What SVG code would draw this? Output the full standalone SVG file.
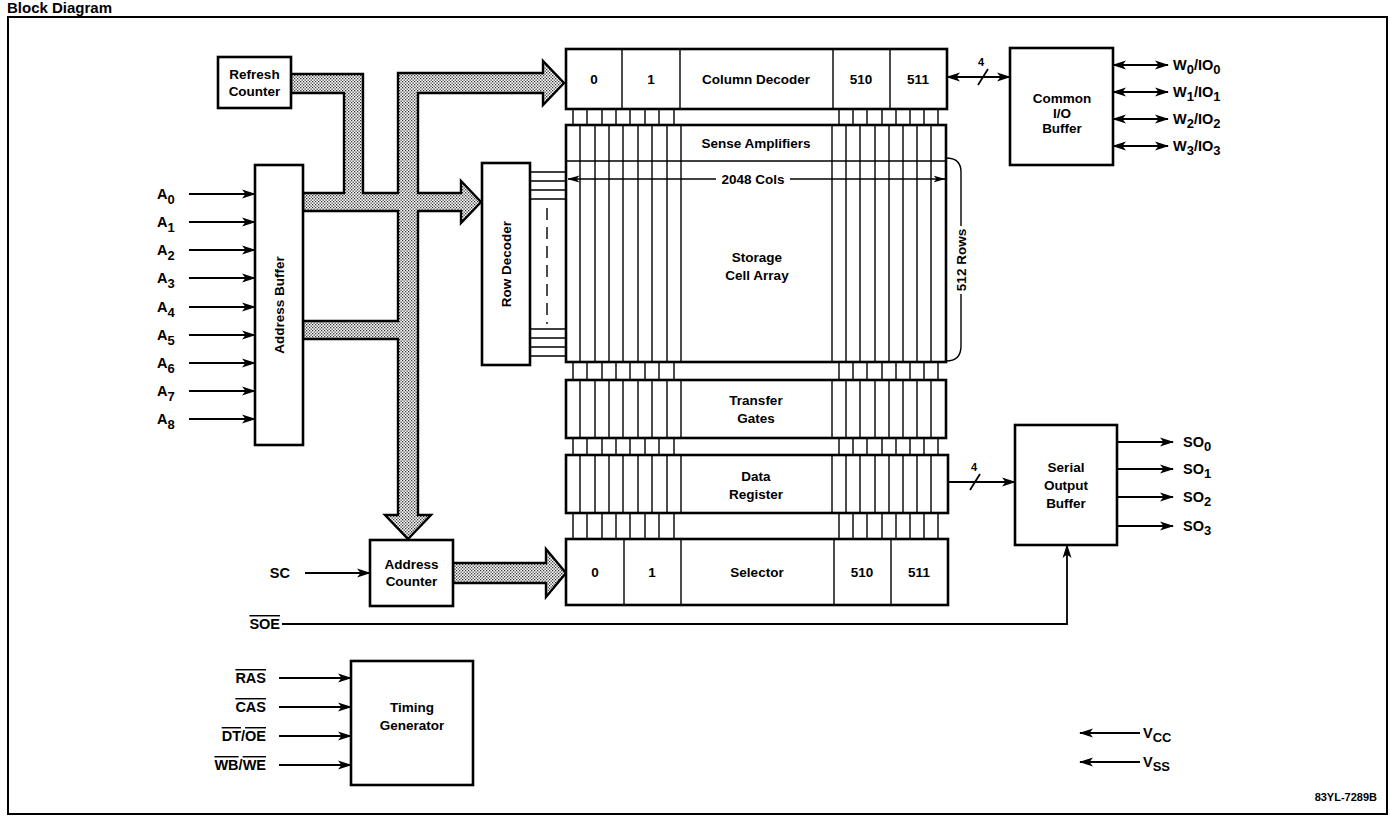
<svg xmlns="http://www.w3.org/2000/svg" width="1390" height="820" viewBox="0 0 1390 820">
<defs>
<style>
text{font-family:"Liberation Sans",Arial,Helvetica,sans-serif;fill:#000}
.lbl{font-weight:bold;font-size:13.5px;text-anchor:middle}
.pin{font-size:14.5px;font-weight:bold}
.sub{font-size:13px}
.box{fill:#fff;stroke:#000;stroke-width:2.6}
.cell{stroke:#000;stroke-width:1.4;fill:none}
.wire{stroke:#000;stroke-width:1.8;fill:none}
.bus{fill:url(#dots);stroke:#000;stroke-width:2.4;stroke-linejoin:miter}
.arr{marker-end:url(#ah)}
.dbl{marker-start:url(#ah);marker-end:url(#ah)}
.ol{text-decoration:overline}
</style>
<pattern id="dots" width="3" height="3" patternUnits="userSpaceOnUse"><rect width="3" height="3" fill="#fff"/><rect width="1.3" height="1.3" fill="#333"/><rect x="1.5" y="1.5" width="1.3" height="1.3" fill="#333"/></pattern>
<marker id="ah" viewBox="0 0 14 10" markerWidth="14" markerHeight="10" refX="13" refY="5" orient="auto-start-reverse" markerUnits="userSpaceOnUse"><path d="M0,0.5 L14,5 L0,9.5 L3.5,5 Z"/></marker>
<marker id="ah2" viewBox="0 0 12 8" markerWidth="12" markerHeight="8" refX="11.5" refY="4" orient="auto-start-reverse" markerUnits="userSpaceOnUse"><path d="M0,0.5 L12,4 L0,7.5 L3,4 Z"/></marker>
</defs>
<rect width="1390" height="820" fill="#fff"/>
<text x="7" y="13" font-weight="bold" font-size="15">Block Diagram</text>
<rect x="8" y="17" width="1379" height="797" fill="none" stroke="#000" stroke-width="2"/>

<g id="connectors">
  <!-- address bus network -->
  <path class="bus" d="M291,74 H363 V193 H398 V73 H543 V61 L564,83 L543,105 V93 H418 V193 H461 V181 L481,202 L461,223 V211 H418 V515 H431 L408,539 L385,515 H398 V339 H303 V321 H398 V211 H303 V193 H344 V93 H291 Z"/>
  <path class="bus" d="M453,563 H546 V549 L566,573 L546,597 V583 H453 Z"/>
  <!-- address inputs -->
  <path class="wire arr" d="M189,194 H255"/>
  <path class="wire arr" d="M189,222 H255"/>
  <path class="wire arr" d="M189,250 H255"/>
  <path class="wire arr" d="M189,278 H255"/>
  <path class="wire arr" d="M189,307 H255"/>
  <path class="wire arr" d="M189,335 H255"/>
  <path class="wire arr" d="M189,363 H255"/>
  <path class="wire arr" d="M189,391 H255"/>
  <path class="wire arr" d="M189,419 H255"/>
  <!-- SC -->
  <path class="wire arr" d="M305,573 H370"/>
  <!-- SOE -->
  <path class="wire arr" d="M282,624 H1067 V545"/>
  <!-- timing inputs -->
  <path class="wire arr" d="M279,678 H351"/>
  <path class="wire arr" d="M279,707 H351"/>
  <path class="wire arr" d="M279,736 H351"/>
  <path class="wire arr" d="M279,765 H351"/>
  <!-- column decoder to common IO -->
  <path class="wire dbl" d="M947,77 H1010"/>
  <path class="wire" d="M978,85 L988,69"/>
  <text x="981" y="66" font-weight="bold" font-size="11" text-anchor="middle">4</text>
  <!-- data register to serial output -->
  <path class="wire arr" d="M948,482 H1015"/>
  <path class="wire" d="M970,490 L980,474"/>
  <text x="974" y="471" font-weight="bold" font-size="11" text-anchor="middle">4</text>
  <!-- W/IO -->
  <path class="wire dbl" d="M1113,65 H1168"/>
  <path class="wire dbl" d="M1113,92 H1168"/>
  <path class="wire dbl" d="M1113,119 H1168"/>
  <path class="wire dbl" d="M1113,146 H1168"/>
  <!-- SO -->
  <path class="wire arr" d="M1117,442 H1173"/>
  <path class="wire arr" d="M1117,469 H1173"/>
  <path class="wire arr" d="M1117,497 H1173"/>
  <path class="wire arr" d="M1117,526 H1173"/>
  <!-- Vcc Vss -->
  <path class="wire arr" d="M1140,733 H1080"/>
  <path class="wire arr" d="M1140,762 H1080"/>
  <!-- row lines -->
  <path class="cell" d="M530,172 H566 M530,181 H566 M530,190 H566 M530,199 H566 M530,329 H566 M530,338 H566 M530,347 H566 M530,356 H566"/>
  <path class="cell" d="M547,208 V324" stroke-dasharray="12 7"/>
  <!-- bit line ticks -->
  <path class="cell" d="M573 109V125M587 109V125M602 109V125M616 109V125M630 109V125M645 109V125M659 109V125M674 109V125M839 109V125M853 109V125M867 109V125M882 109V125M896 109V125M910 109V125M924 109V125M938 109V125"/>
  <path class="cell" d="M573 362V380M587 362V380M602 362V380M616 362V380M630 362V380M645 362V380M659 362V380M674 362V380M839 362V380M853 362V380M867 362V380M882 362V380M896 362V380M910 362V380M924 362V380M938 362V380"/>
  <path class="cell" d="M573 438V455M587 438V455M602 438V455M616 438V455M630 438V455M645 438V455M659 438V455M674 438V455M839 438V455M853 438V455M867 438V455M882 438V455M896 438V455M910 438V455M924 438V455M938 438V455"/>
  <path class="cell" d="M573 513V539M587 513V539M602 513V539M616 513V539M630 513V539M645 513V539M659 513V539M674 513V539M839 513V539M853 513V539M867 513V539M882 513V539M896 513V539M910 513V539M924 513V539M938 513V539"/>
</g>

<g id="refresh-counter">
  <rect class="box" x="218" y="57" width="73" height="51"/>
  <text class="lbl" x="254.5" y="79">Refresh</text>
  <text class="lbl" x="254.5" y="96">Counter</text>
</g>

<g id="address-buffer">
  <rect class="box" x="255" y="165" width="48" height="280"/>
  <text class="lbl" transform="translate(284,305) rotate(-90)">Address Buffer</text>
</g>

<g id="address-pins">
  <text class="pin" x="157" y="199">A<tspan class="sub" dy="5">0</tspan></text>
  <text class="pin" x="157" y="227">A<tspan class="sub" dy="5">1</tspan></text>
  <text class="pin" x="157" y="255">A<tspan class="sub" dy="5">2</tspan></text>
  <text class="pin" x="157" y="283">A<tspan class="sub" dy="5">3</tspan></text>
  <text class="pin" x="157" y="312">A<tspan class="sub" dy="5">4</tspan></text>
  <text class="pin" x="157" y="340">A<tspan class="sub" dy="5">5</tspan></text>
  <text class="pin" x="157" y="368">A<tspan class="sub" dy="5">6</tspan></text>
  <text class="pin" x="157" y="396">A<tspan class="sub" dy="5">7</tspan></text>
  <text class="pin" x="157" y="424">A<tspan class="sub" dy="5">8</tspan></text>
</g>

<g id="row-decoder">
  <rect class="box" x="482" y="163" width="48" height="202"/>
  <text class="lbl" transform="translate(511,264) rotate(-90)">Row Decoder</text>
</g>

<g id="column-decoder">
  <rect class="box" x="566" y="49" width="381" height="60"/>
  <path class="cell" d="M622 49V109M680 49V109M833 49V109M890 49V109"/>
  <text class="lbl" x="594" y="84">0</text>
  <text class="lbl" x="651" y="84">1</text>
  <text class="lbl" x="756" y="84">Column Decoder</text>
  <text class="lbl" x="861" y="84">510</text>
  <text class="lbl" x="918" y="84">511</text>
</g>

<g id="storage-array">
  <rect class="box" x="566" y="125" width="380" height="237"/>
  <path class="cell" d="M566 161H946"/>
  <path class="cell" d="M580 125V362M595 125V362M609 125V362M623 125V362M638 125V362M652 125V362M667 125V362M681 125V362M832 125V362M846 125V362M860 125V362M875 125V362M889 125V362M903 125V362M917 125V362M931 125V362"/>
  <text class="lbl" x="756" y="148">Sense Amplifiers</text>
  <path class="cell" d="M716,179 H568" marker-end="url(#ah2)"/>
  <path class="cell" d="M790,179 H945" marker-end="url(#ah2)"/>
  <text class="lbl" x="753" y="184">2048 Cols</text>
  <text class="lbl" x="757" y="262">Storage</text>
  <text class="lbl" x="757" y="280">Cell Array</text>
  <path class="cell" d="M946,158 Q961,158 961,172 V226 M961,294 V346 Q961,361 946,361"/>
  <text class="lbl" transform="translate(966,260) rotate(-90)">512 Rows</text>
</g>

<g id="transfer-gates">
  <rect class="box" x="566" y="380" width="380" height="58"/>
  <path class="cell" d="M580 380V438M595 380V438M609 380V438M623 380V438M638 380V438M652 380V438M667 380V438M681 380V438M832 380V438M846 380V438M860 380V438M875 380V438M889 380V438M903 380V438M917 380V438M931 380V438"/>
  <text class="lbl" x="756" y="405">Transfer</text>
  <text class="lbl" x="756" y="423">Gates</text>
</g>

<g id="data-register">
  <rect class="box" x="566" y="455" width="382" height="58"/>
  <path class="cell" d="M580 455V513M595 455V513M609 455V513M623 455V513M638 455V513M652 455V513M667 455V513M681 455V513M832 455V513M846 455V513M860 455V513M875 455V513M889 455V513M903 455V513M917 455V513M931 455V513"/>
  <text class="lbl" x="756" y="481">Data</text>
  <text class="lbl" x="756" y="499">Register</text>
</g>

<g id="selector">
  <rect class="box" x="566" y="539" width="382" height="66"/>
  <path class="cell" d="M624 539V605M681 539V605M834 539V605M891 539V605"/>
  <text class="lbl" x="595" y="577">0</text>
  <text class="lbl" x="652" y="577">1</text>
  <text class="lbl" x="757" y="577">Selector</text>
  <text class="lbl" x="862" y="577">510</text>
  <text class="lbl" x="919" y="577">511</text>
</g>

<g id="address-counter">
  <rect class="box" x="370" y="540" width="83" height="66"/>
  <text class="lbl" x="411.5" y="569">Address</text>
  <text class="lbl" x="411.5" y="586">Counter</text>
</g>

<g id="common-io-buffer">
  <rect class="box" x="1010" y="48" width="103" height="117"/>
  <text class="lbl" x="1062" y="103">Common</text>
  <text class="lbl" x="1062" y="118">I/O</text>
  <text class="lbl" x="1062" y="133">Buffer</text>
</g>

<g id="io-pins">
  <text class="pin" x="1173" y="70">W<tspan class="sub" dy="4">0</tspan><tspan dy="-4">/IO</tspan><tspan class="sub" dy="4">0</tspan></text>
  <text class="pin" x="1173" y="97">W<tspan class="sub" dy="4">1</tspan><tspan dy="-4">/IO</tspan><tspan class="sub" dy="4">1</tspan></text>
  <text class="pin" x="1173" y="124">W<tspan class="sub" dy="4">2</tspan><tspan dy="-4">/IO</tspan><tspan class="sub" dy="4">2</tspan></text>
  <text class="pin" x="1173" y="151">W<tspan class="sub" dy="4">3</tspan><tspan dy="-4">/IO</tspan><tspan class="sub" dy="4">3</tspan></text>
</g>

<g id="serial-output-buffer">
  <rect class="box" x="1015" y="425" width="102" height="120"/>
  <text class="lbl" x="1066" y="472">Serial</text>
  <text class="lbl" x="1066" y="490">Output</text>
  <text class="lbl" x="1066" y="508">Buffer</text>
</g>

<g id="so-pins">
  <text class="pin" x="1183" y="447">SO<tspan class="sub" dy="4">0</tspan></text>
  <text class="pin" x="1183" y="474">SO<tspan class="sub" dy="4">1</tspan></text>
  <text class="pin" x="1183" y="502">SO<tspan class="sub" dy="4">2</tspan></text>
  <text class="pin" x="1183" y="531">SO<tspan class="sub" dy="4">3</tspan></text>
</g>

<g id="control-pins">
  <text class="pin" x="290" y="578" text-anchor="end">SC</text>
  <text class="pin" x="280" y="629" text-anchor="end"><tspan class="ol">SOE</tspan></text>
  <text class="pin" x="266" y="683" text-anchor="end"><tspan class="ol">RAS</tspan></text>
  <text class="pin" x="266" y="712" text-anchor="end"><tspan class="ol">CAS</tspan></text>
  <text class="pin" x="266" y="741" text-anchor="end"><tspan class="ol">DT</tspan>/<tspan class="ol">OE</tspan></text>
  <text class="pin" x="266" y="770" text-anchor="end"><tspan class="ol">WB</tspan>/<tspan class="ol">WE</tspan></text>
</g>

<g id="timing-generator">
  <rect class="box" x="351" y="661" width="122" height="124"/>
  <text class="lbl" x="412" y="712">Timing</text>
  <text class="lbl" x="412" y="730">Generator</text>
</g>

<g id="power-pins">
  <text class="pin" x="1143" y="738">V<tspan class="sub" dy="4">CC</tspan></text>
  <text class="pin" x="1143" y="767">V<tspan class="sub" dy="4">SS</tspan></text>
</g>

<text x="1377" y="801" font-size="11" font-weight="bold" text-anchor="end">83YL-7289B</text>
</svg>
